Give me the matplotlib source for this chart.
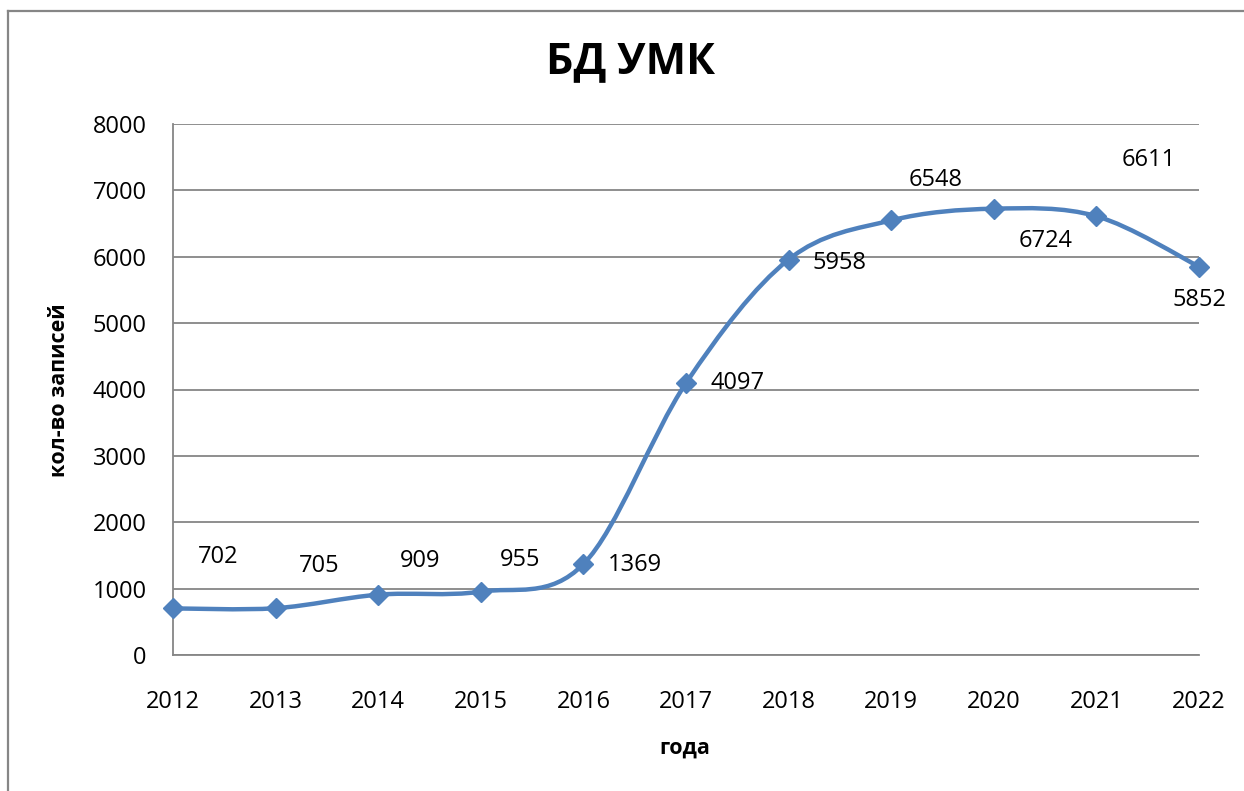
import numpy as np
import matplotlib
matplotlib.use("Agg")
import matplotlib.pyplot as plt
from matplotlib.path import Path
from matplotlib.patches import PathPatch
from matplotlib.lines import Line2D

plt.rcParams['font.family'] = ['Open Sans', 'DejaVu Sans']

years = [2012, 2013, 2014, 2015, 2016, 2017, 2018, 2019, 2020, 2021, 2022]
records = [702, 705, 909, 955, 1369, 4097, 5958, 6548, 6724, 6611, 5852]
y_ticks = [0, 1000, 2000, 3000, 4000, 5000, 6000, 7000, 8000]

# where the data labels sit relative to their points (pixels, x right / y up)
label_offsets = [(45, 51), (44, 42), (42, 34), (39, 32), (51, -1), (52, 0),
                 (51, -3), (44, 40), (52, -32), (52, 56), (0, -33)]

blue = '#4F81BD'
grey = '#868686'

fig = plt.figure(figsize=(12.44, 7.91), dpi=100)
ax = fig.add_axes([173/1244, 1-655/791, 1026/1244, 531/791])

# smoothed line like excel: bezier segments through the points
pts = np.column_stack([years, records]).astype(float)
n = len(pts)
verts = [pts[0]]
codes = [Path.MOVETO]
for i in range(n-1):
    p_prev = pts[max(i-1, 0)]
    p0 = pts[i]
    p1 = pts[i+1]
    p_next = pts[min(i+2, n-1)]
    verts += [p0 + (p1-p_prev)/6., p1 - (p_next-p0)/6., p1]
    codes += [Path.CURVE4]*3
ax.add_patch(PathPatch(Path(verts, codes), facecolor='none', edgecolor=blue,
                       lw=3.2, capstyle='round', joinstyle='round', zorder=3))
ax.plot(years, records, ls='none', marker='D', ms=10.5, color=blue,
        mec=blue, clip_on=False, zorder=4)

for x, y, (dx, dy) in zip(years, records, label_offsets):
    ax.annotate(str(y), xy=(x, y), xytext=(dx, dy), textcoords='offset pixels',
                ha='center', va='center', fontsize=17, color='black')

ax.set_xlim(2012, 2022)
ax.set_ylim(0, 8000)
ax.set_xticks(years)
ax.set_yticks(y_ticks)
ax.grid(axis='y', color=grey, lw=1.3)
ax.set_axisbelow(True)
for s in ['top', 'right']:
    ax.spines[s].set_visible(False)
for s in ['left', 'bottom']:
    ax.spines[s].set_color(grey)
    ax.spines[s].set_linewidth(1.3)
ax.tick_params(length=0, labelsize=17, colors='black')
ax.tick_params(axis='x', pad=25)
ax.tick_params(axis='y', pad=19)

fig.text(631/1244, 1-62/791, 'БД УМК', ha='center', va='center',
         fontsize=31, fontweight='bold')
fig.text(60/1244, 1-390/791, 'кол-во записей', ha='center', va='center',
         rotation=90, fontsize=15.5, fontweight='bold')
fig.text(685/1244, 1-748/791, 'года', ha='center', va='center',
         fontsize=15.5, fontweight='bold')

# chart frame (only left and top edges are inside the picture)
fig.add_artist(Line2D([8/1244, 8/1244], [0, 1-11/791], transform=fig.transFigure,
                      color=grey, lw=1.6))
fig.add_artist(Line2D([8/1244, 1], [1-11/791, 1-11/791], transform=fig.transFigure,
                      color=grey, lw=1.6))

plt.savefig('out.png', dpi=100)
